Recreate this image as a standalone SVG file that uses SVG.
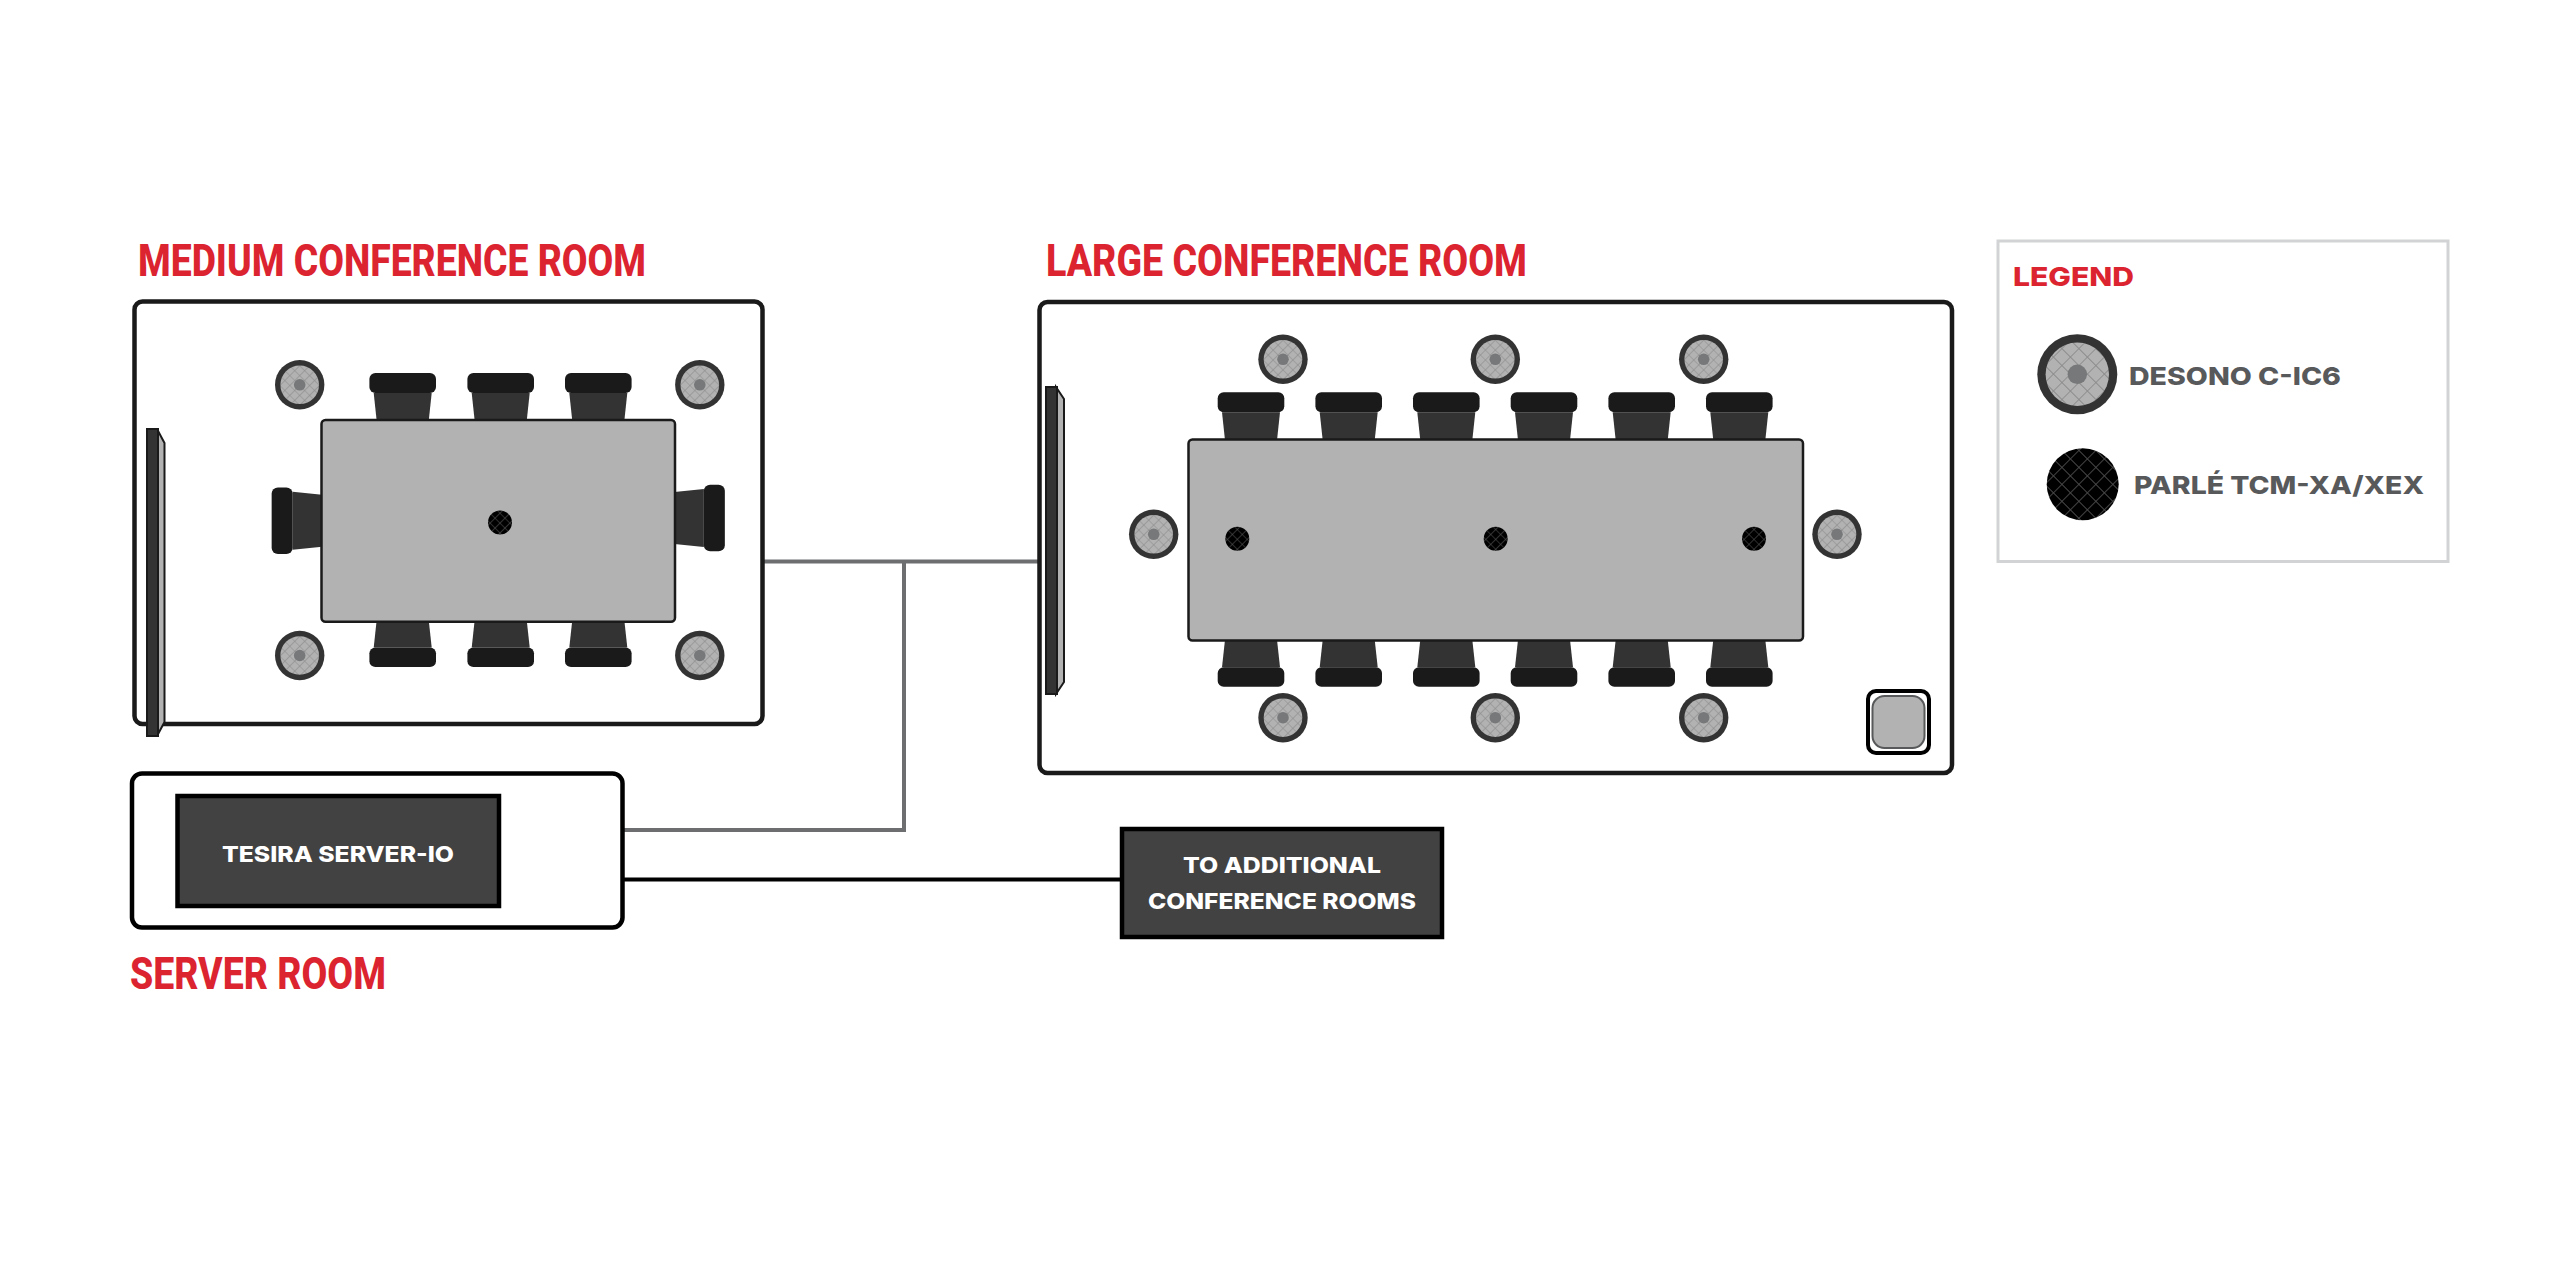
<svg xmlns="http://www.w3.org/2000/svg" width="2550" height="1283" viewBox="0 0 2550 1283">
<style>
.room{fill:#fff;stroke:#1a1a1a;stroke-width:4.500}
.table{fill:#b1b2b1;stroke:#1a1a1a;stroke-width:2.500}
.title{font-family:"Roboto","Liberation Sans",sans-serif;font-weight:800;font-size:45px;fill:#db2430}
.bold{font-family:"Inter","Liberation Sans",sans-serif;font-weight:800;font-size:22px}
.white{fill:#fff}
.grey{fill:#58595b}
.box{fill:#414241;stroke:#000;stroke-width:4.500}
.wire-g{fill:none;stroke:#6d6e70;stroke-width:4}
.wire-k{fill:none;stroke:#000;stroke-width:4}
.disp{fill:#333;stroke:#1a1a1a;stroke-width:2}
.dside{fill:#b1b2b1;stroke:#1a1a1a;stroke-width:2}
</style>
<defs>
<pattern id="hs" width="7" height="7" patternUnits="userSpaceOnUse" patternTransform="rotate(45)"><rect width="7" height="7" fill="#b1b2b1"/><path d="M0 0H7M0 0V7" stroke="#8a8b8a" stroke-width="1.200" fill="none"/></pattern>
<pattern id="hm" width="7" height="7" patternUnits="userSpaceOnUse" patternTransform="rotate(45)"><rect width="7" height="7" fill="#000"/><path d="M0 0H7M0 0V7" stroke="#555" stroke-width="1.200" fill="none"/></pattern>
<pattern id="hsL" width="12" height="12" patternUnits="userSpaceOnUse" patternTransform="rotate(45)"><rect width="12" height="12" fill="#b1b2b1"/><path d="M0 0H12M0 0V12" stroke="#8a8b8a" stroke-width="1.800" fill="none"/></pattern>
<pattern id="hmL" width="12" height="12" patternUnits="userSpaceOnUse" patternTransform="rotate(45)"><rect width="12" height="12" fill="#000"/><path d="M0 0H12M0 0V12" stroke="#4a4a4a" stroke-width="1.800" fill="none"/></pattern>
<g id="spk"><circle r="24.700" fill="#333"/><circle r="19.300" fill="url(#hs)"/><circle r="5.800" fill="#77787a"/></g>
<g id="mic"><circle r="12" fill="url(#hm)"/></g>
<g id="chair"><path d="M-29-27H29L26 1H-26Z" fill="#333"/><rect x="-33.300" y="-47" width="66.600" height="20" rx="6" fill="#1a1a1a"/></g>
</defs>
<rect width="2550" height="1283" fill="#fff"/>

<g id="connectors">
<path class="wire-g" d="M763 561.500H1039"/>
<path class="wire-g" d="M623 830H904V561.500"/>
<path class="wire-k" d="M623 879.500H1120"/>
</g>

<g id="medium-room">
<text class="title" x="138" y="276" textLength="508" lengthAdjust="spacingAndGlyphs">MEDIUM CONFERENCE ROOM</text>
<rect class="room" x="134.500" y="301.500" width="628" height="422.500" rx="8"/>
<g id="medium-chairs">
<use href="#chair" transform="translate(402.700 420)"/>
<use href="#chair" transform="translate(500.700 420)"/>
<use href="#chair" transform="translate(598.300 420)"/>
<use href="#chair" transform="translate(402.700 621) scale(1 -0.980)"/>
<use href="#chair" transform="translate(500.700 621) scale(1 -0.980)"/>
<use href="#chair" transform="translate(598.300 621) scale(1 -0.980)"/>
<use href="#chair" transform="translate(321 520.700) rotate(-90) scale(1 1.050)"/>
<use href="#chair" transform="translate(675.500 518) rotate(90) scale(1 1.050)"/>
</g>
<rect class="table" x="321.500" y="420" width="353.500" height="201.700" rx="4"/>
<use href="#mic" transform="translate(500 522.400)"/>
<use href="#spk" x="299.700" y="384.800"/>
<use href="#spk" x="699.800" y="384.800"/>
<use href="#spk" x="299.700" y="655.500"/>
<use href="#spk" x="699.800" y="655.500"/>
<g id="medium-display">
<path class="dside" d="M157 429L164.500 443V722L157 736Z"/>
<rect class="disp" x="147" y="429" width="11" height="307"/>
</g>
</g>

<g id="large-room">
<text class="title" x="1046" y="276" textLength="481" lengthAdjust="spacingAndGlyphs">LARGE CONFERENCE ROOM</text>
<rect class="room" x="1039.500" y="302" width="912.500" height="471" rx="8"/>
<g id="large-chairs">
<use href="#chair" transform="translate(1251 439.300)"/>
<use href="#chair" transform="translate(1348.700 439.300)"/>
<use href="#chair" transform="translate(1446.300 439.300)"/>
<use href="#chair" transform="translate(1544 439.300)"/>
<use href="#chair" transform="translate(1641.700 439.300)"/>
<use href="#chair" transform="translate(1739.300 439.300)"/>
<use href="#chair" transform="translate(1251 640.700) scale(1 -0.980)"/>
<use href="#chair" transform="translate(1348.700 640.700) scale(1 -0.980)"/>
<use href="#chair" transform="translate(1446.300 640.700) scale(1 -0.980)"/>
<use href="#chair" transform="translate(1544 640.700) scale(1 -0.980)"/>
<use href="#chair" transform="translate(1641.700 640.700) scale(1 -0.980)"/>
<use href="#chair" transform="translate(1739.300 640.700) scale(1 -0.980)"/>
</g>
<rect class="table" x="1188.500" y="439.500" width="614.500" height="201" rx="4"/>
<use href="#mic" transform="translate(1237.300 538.700)"/>
<use href="#mic" transform="translate(1495.700 538.700)"/>
<use href="#mic" transform="translate(1754 538.700)"/>
<use href="#spk" x="1283" y="359.300"/>
<use href="#spk" x="1495.300" y="359.300"/>
<use href="#spk" x="1703.700" y="359.300"/>
<use href="#spk" x="1283" y="717.700"/>
<use href="#spk" x="1495.300" y="717.700"/>
<use href="#spk" x="1703.700" y="717.700"/>
<use href="#spk" x="1153.700" y="534.300"/>
<use href="#spk" x="1837" y="534.300"/>
<g id="large-display">
<path class="dside" d="M1056 387L1064 399V682L1056 694Z"/>
<rect class="disp" x="1046" y="387" width="11" height="307"/>
</g>
<g id="large-device">
<rect x="1868" y="691" width="61" height="62" rx="8" fill="#fff" stroke="#000" stroke-width="4"/>
<rect x="1872.500" y="696" width="52" height="52" rx="12" fill="#b1b2b1" stroke="#58595b" stroke-width="2"/>
</g>
</g>

<g id="server-room">
<rect x="132" y="773.500" width="490.500" height="154" rx="10" fill="#fff" stroke="#000" stroke-width="4.500"/>
<g id="tesira-server">
<rect class="box" x="177.500" y="796" width="321.500" height="110"/>
<text class="bold white" x="222" y="862" textLength="232" lengthAdjust="spacingAndGlyphs">TESIRA SERVER-IO</text>
</g>
<text class="title" x="130" y="989" textLength="256" lengthAdjust="spacingAndGlyphs">SERVER ROOM</text>
</g>

<g id="additional-rooms">
<rect class="box" x="1122" y="829" width="320" height="108"/>
<text class="bold white" x="1183" y="873" textLength="198" lengthAdjust="spacingAndGlyphs">TO ADDITIONAL</text>
<text class="bold white" x="1148" y="909" textLength="268" lengthAdjust="spacingAndGlyphs">CONFERENCE ROOMS</text>
</g>

<g id="legend">
<rect x="1998" y="241" width="450" height="320.500" fill="#fff" stroke="#d1d3d4" stroke-width="3"/>
<text class="bold" x="2013" y="286" style="font-size:26px;fill:#db2430" textLength="121" lengthAdjust="spacingAndGlyphs">LEGEND</text>
<g id="legend-speaker">
<circle cx="2077.300" cy="374.300" r="40" fill="#333"/>
<circle cx="2077.300" cy="374.300" r="31.700" fill="url(#hsL)"/>
<circle cx="2077.300" cy="374.300" r="9.700" fill="#77787a"/>
<text class="bold grey" x="2129" y="384.500" style="font-size:25px" textLength="212" lengthAdjust="spacingAndGlyphs">DESONO C-IC6</text>
</g>
<g id="legend-mic">
<circle cx="2082.700" cy="484.300" r="36" fill="url(#hmL)"/>
<text class="bold grey" x="2134" y="494" style="font-size:25px" textLength="290" lengthAdjust="spacingAndGlyphs">PARLÉ TCM-XA/XEX</text>
</g>
</g>
</svg>
